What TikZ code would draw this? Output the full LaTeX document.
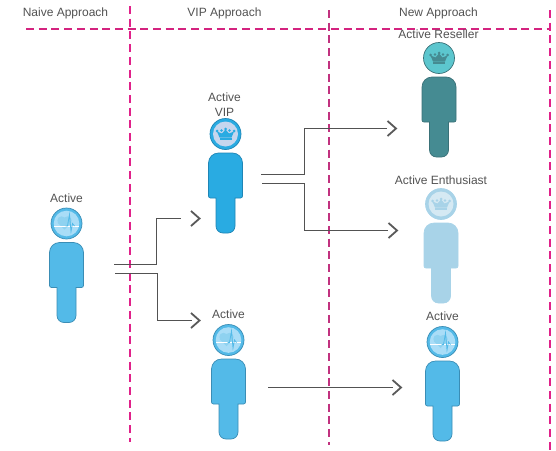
\documentclass[tikz,border=0pt]{standalone}
\usepackage{fontspec}
\setmainfont{Liberation Sans}
\usepackage{tikz}

\begin{document}
\begin{tikzpicture}[x=1pt,y=-1pt,
  lab/.style={font=\fontsize{12}{14}\selectfont, text=black!68, inner sep=0pt, align=center},
  sep/.style={draw=#1, line width=1.3pt, dash pattern=on 8pt off 4.7pt},
  conn/.style={draw=black!68, line width=1pt},
  chev/.style={draw=black!65, line width=1.8pt}]

% Colours
\definecolor{colSep}{HTML}{E0218A}
\definecolor{colSepB}{HTML}{C1327F}
\definecolor{colSepC}{HTML}{D4237F}
\definecolor{colAct}{HTML}{53BAE8}
\definecolor{colActE}{HTML}{3A8DB5}
\definecolor{colVip}{HTML}{29ABE2}
\definecolor{colVipE}{HTML}{1F85B5}
\definecolor{colVipH}{HTML}{C5D6EE}
\definecolor{colRes}{HTML}{458B92}
\definecolor{colResE}{HTML}{3A7178}
\definecolor{colResH}{HTML}{5CC6CE}
\definecolor{colEnt}{HTML}{A8D3E8}
\definecolor{colEntH}{HTML}{D5E9F3}
\definecolor{colActH}{HTML}{A9DDF7}

% Picture size
\useasboundingbox (0,0) rectangle (556,450);

% Body: x, y of the head centre, fill, edge
\def\body#1#2#3#4{
  \path[fill=#3, draw=#4, line width=0.7pt]
  (#1-17,#2+40) [rounded corners=10pt] -- (#1-17,#2+19) -- (#1+17,#2+19)
  [rounded corners=2pt] -- (#1+17,#2+64) [sharp corners] -- (#1+9.5,#2+64)
  [rounded corners=7pt] -- (#1+9.5,#2+99) -- (#1-9.5,#2+99)
  [sharp corners] -- (#1-9.5,#2+64)
  [rounded corners=2pt] -- (#1-17,#2+64) -- (#1-17,#2+40) [sharp corners] -- cycle;
}
% Crown head: x, y, ring, inner, crown, edge
\def\crownhead#1#2#3#4#5#6{
  \path[fill=#3, draw=#6, line width=0.7pt] (#1,#2) circle (15.5);
  \fill[#4] (#1,#2) circle (12.5);
  \path[fill=#5] (#1-6,#2+3.5) -- (#1-8.5,#2-2.5) -- (#1-3.5,#2-0.5) -- (#1,#2-4.5)
  -- (#1+3.5,#2-0.5) -- (#1+8.5,#2-2.5) -- (#1+6,#2+3.5) -- cycle;
  \fill[#5] (#1-6,#2+4.2) rectangle (#1+6,#2+6);
  \fill[#5] (#1-8.5,#2-3) circle (1.5) (#1,#2-5) circle (1.5) (#1+8.5,#2-3) circle (1.5)
  (#1-4,#2-3.5) circle (1.4) (#1+4,#2-3.5) circle (1.4);
}
% Pulse head: x, y
\def\pulsehead#1#2{
  \path[fill=colAct, draw=colActE, line width=0.7pt] (#1,#2) circle (15.5);
  \fill[colActH] (#1,#2) circle (12.8);
  \fill[colAct!65] (#1-5,#2-3) circle (4.2) (#1+1,#2-3) circle (4.2);
  \fill[colAct!65] (#1-9,#2-1) -- (#1+5,#2-1) -- (#1-2,#2+6) -- cycle;
  \draw[white, line width=0.8pt] (#1-12.5,#2+2.5) -- (#1+12.5,#2+2.5);
  \draw[colAct, line width=0.8pt] (#1-1,#2+2.5) -- (#1+1,#2+2.5) -- (#1+3,#2-9)
  -- (#1+4.5,#2+8) -- (#1+6,#2) -- (#1+8,#2+2.5);
}
% Chevron with its tip at a coordinate
\def\chevron#1{
  \draw[chev] (#1) ++(-8.5,-7.5) -- (#1) -- ++(-8.5,7.5);
}

% Separators
\draw[sep=colSepC] (26,29) -- (550,29);
\draw[sep=colSep] (130,6) -- (130,442);
\draw[sep=colSepB] (329,10) -- (329,445);
\draw[sep=colSep] (550,10) -- (550,450);

% Column titles
\node[lab] (tNaive) at (65.5,13) {Naive Approach};
\node[lab] (tVip) at (224.5,13) {VIP Approach};
\node[lab] (tNew) at (438.5,13) {New Approach};

% Naive
\body{66.5}{223.5}{colAct}{colActE}
\pulsehead{66.5}{223.5}
\node[lab] (lActA) at (66.5,198) {Active};

% VIP
\body{225.5}{134}{colVip}{colVipE}
\crownhead{225.5}{134}{colVip}{colVipH}{colVip}{colVipE}
\node[lab, font=\fontsize{12}{15}\selectfont] (lVip) at (224.5,104.5) {Active\\VIP};

\body{228.5}{340}{colAct}{colActE}
\pulsehead{228.5}{340}
\node[lab] (lActB) at (228.5,314) {Active};

% New
\body{439}{58}{colRes}{colResE}
\crownhead{439}{58}{colResH}{colResH}{colRes}{colResE}
\node[lab] (lRes) at (438.5,34.5) {Active Reseller};

\body{441}{204}{colEnt}{colEnt}
\crownhead{441}{204}{colEnt}{colEntH}{colEnt}{colEnt}
\node[lab] (lEnt) at (441,180.5) {Active Enthusiast};

\body{442.5}{342}{colAct}{colActE}
\pulsehead{442.5}{342}
\node[lab] (lActC) at (442.5,316) {Active};

% Connectors
\coordinate (s1) at (114,264.5);
\coordinate (k1) at (156.5,218.5);
\coordinate (e1) at (181,218.5);
\coordinate (t1) at (199.5,218.5);
\draw[conn] (s1) -| (k1) -- (e1);
\chevron{t1}

\coordinate (s2) at (115,273.5);
\coordinate (k2) at (157.5,320.5);
\coordinate (e2) at (192,320.5);
\coordinate (t2) at (199.5,320.5);
\draw[conn] (s2) -| (k2) -- (e2);
\chevron{t2}

\coordinate (s3) at (261,174.5);
\coordinate (k3) at (304.5,128.5);
\coordinate (e3) at (387,128.5);
\coordinate (t3) at (396,128.5);
\draw[conn] (s3) -| (k3) -- (e3);
\chevron{t3}

\coordinate (s4) at (262,183.5);
\coordinate (k4) at (304.5,230.5);
\coordinate (e4) at (388,230.5);
\coordinate (t4) at (397,230.5);
\draw[conn] (s4) -| (k4) -- (e4);
\chevron{t4}

\coordinate (s5) at (268,387.5);
\coordinate (e5) at (392.5,387.5);
\coordinate (t5) at (401,387.5);
\draw[conn] (s5) -- (e5);
\chevron{t5}

\end{tikzpicture}
\end{document}
